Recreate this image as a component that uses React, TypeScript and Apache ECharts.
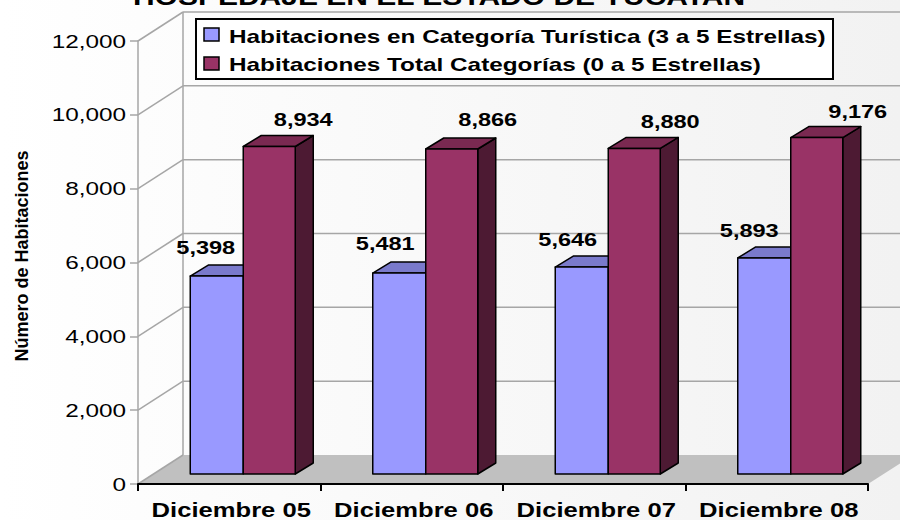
import React, { useEffect, useRef } from "react";
import * as echarts from "echarts";

const categories = ["Diciembre 05", "Diciembre 06", "Diciembre 07", "Diciembre 08"];
const seriesNames = [
  "Habitaciones en Categoría Turística (3 a 5 Estrellas)",
  "Habitaciones Total Categorías (0 a 5 Estrellas)",
];
const turistica = [5398, 5481, 5646, 5893];
const total = [8934, 8866, 8880, 9176];
const yTicks = [0, 2000, 4000, 6000, 8000, 10000, 12000];
const titleText = "HOSPEDAJE EN EL ESTADO DE YUCATAN";
const yAxisName = "Número de Habitaciones";

const labelNudgeA = [[-11, -2], [-14, -3], [-14, -1], [-15, -1]];
const labelNudgeB = [[34, -1], [36, -3], [36, -1], [41, 0]];

const FONT = "'Liberation Sans', Arial, sans-serif";
const DEPTH_X = 45;
const DEPTH_Y = -29;
const BAR_DY = -10;
const BAR_SCALE = 0.993;
const STRETCH = 1.28;

const fmt = (v: number) => v.toLocaleString("en-US");

function barSeries(name: string, values: number[], idx: number, front: string, top: string, side: string, nudge: number[][]) {
  return {
    type: "custom",
    name,
    z: 5,
    clip: false,
    data: values.map((v, i) => [i, v]),
    encode: { x: 0, y: 1 },
    renderItem: (params: any, api: any) => {
      const i = api.value(0);
      const v = api.value(1);
      const base = api.coord([i, 0]);
      const topP = api.coord([i, v]);
      const x0 = base[0] + (idx === 0 ? -39 : 14);
      const x1 = x0 + (idx === 0 ? 53 : 52);
      const yb = base[1] + BAR_DY;
      const yt = yb - (base[1] - topP[1]) * BAR_SCALE;
      const dx = 18;
      const dy = -11;
      const line = { stroke: "#000", lineWidth: 1.5, lineJoin: "round" };
      const children: any[] = [];
      if (idx === 1) {
        children.push({
          type: "polygon",
          shape: { points: [[x1, yb], [x1 + dx, yb + dy], [x1 + dx, yt + dy], [x1, yt]] },
          style: { fill: side, ...line },
        });
      }
      children.push({
        type: "polygon",
        shape: { points: [[x0, yt], [x0 + dx, yt + dy], [x1 + dx, yt + dy], [x1, yt]] },
        style: { fill: top, ...line },
      });
      children.push({
        type: "rect",
        shape: { x: x0, y: yt, width: x1 - x0, height: yb - yt },
        style: { fill: front, ...line },
      });
      children.push({
        type: "text",
        x: (x0 + x1) / 2 + nudge[i][0],
        y: yt - 26 + nudge[i][1],
        scaleX: 1.24,
        style: {
          text: fmt(v),
          fontFamily: FONT,
          fontWeight: "bold",
          fontSize: 19,
          fill: "#000",
          align: "center",
          verticalAlign: "middle",
        },
      });
      return { type: "group", children };
    },
  };
}

export default function App() {
  const ref = useRef<HTMLDivElement>(null);
  useEffect(() => {
    const chart = echarts.init(ref.current!, undefined, { renderer: "svg" });
    const wallSeries = {
      type: "custom",
      silent: true,
      z: 1,
      clip: false,
      data: yTicks.map((t) => [0, t]),
      encode: { x: 0, y: 1 },
      renderItem: (params: any, api: any) => {
        const v = api.value(1);
        const band = api.size([1, 0])[0];
        const c0 = api.coord([0, v]);
        const left = [c0[0] - band / 2, c0[1]];
        const wallStyle = { stroke: "#a6a6a6", lineWidth: 1.5 };
        const bx = left[0] + DEPTH_X;
        const by = left[1] + DEPTH_Y;
        const children: any[] = [];
        if (v === 0) {
          const rightX = api.coord([3, 0])[0] + band / 2;
          children.push({
            type: "polygon",
            shape: {
              points: [
                [left[0], left[1]],
                [bx, by],
                [rightX + DEPTH_X, by],
                [rightX, left[1]],
              ],
            },
            style: { fill: "#c0c0c0", stroke: "none" },
          });
          const topY = api.coord([0, 12000])[1];
          children.push({
            type: "line",
            shape: { x1: bx, y1: by, x2: bx, y2: topY + DEPTH_Y },
            style: wallStyle,
          });
        } else {
          children.push({
            type: "line",
            shape: { x1: bx, y1: by, x2: 900, y2: by },
            style: wallStyle,
          });
        }
        children.push({
          type: "line",
          shape: { x1: left[0], y1: left[1], x2: bx, y2: by },
          style: wallStyle,
        });
        return { type: "group", children };
      },
    };
    const yLabelSeries = {
      type: "custom",
      silent: true,
      z: 6,
      clip: false,
      data: yTicks.map((t) => [0, t]),
      encode: { x: 0, y: 1 },
      renderItem: (params: any, api: any) => {
        const v = api.value(1);
        const p = api.coord([0, v]);
        return {
          type: "text",
          x: 126,
          y: p[1],
          scaleX: STRETCH,
          style: {
            text: fmt(v),
            fontFamily: FONT,
            fontSize: 19,
            fill: "#000",
            align: "right",
            verticalAlign: "middle",
          },
        };
      },
    };
    const xLabelSeries = {
      type: "custom",
      silent: true,
      z: 6,
      clip: false,
      data: categories.map((c, i) => [i, 0]),
      encode: { x: 0, y: 1 },
      renderItem: (params: any, api: any) => {
        const i = api.value(0);
        const p = api.coord([i, 0]);
        return {
          type: "text",
          x: p[0] + 2,
          y: 510,
          scaleX: STRETCH,
          style: {
            text: categories[i],
            fontFamily: FONT,
            fontWeight: "bold",
            fontSize: 20,
            fill: "#000",
            align: "center",
            verticalAlign: "middle",
          },
        };
      },
    };
    chart.setOption({
      animation: false,
      backgroundColor: {
        type: "linear", x: 0, y: 0, x2: 1, y2: 0,
        colorStops: [{ offset: 0, color: "#ffffff" }, { offset: 1, color: "#f2f2f2" }],
      },
      grid: { left: 138, right: 32, top: 41, bottom: 36 },
      xAxis: {
        type: "category",
        data: categories,
        axisLine: { lineStyle: { color: "#000", width: 2 } },
        axisTick: { show: true, interval: 0, length: 7, lineStyle: { color: "#000", width: 2 } },
        axisLabel: { show: false, interval: 0 },
        z: 7,
      },
      yAxis: {
        type: "value",
        min: 0,
        max: 12000,
        interval: 2000,
        axisLine: { show: true, lineStyle: { color: "#a6a6a6", width: 1.5 } },
        axisTick: { show: true, length: 8, lineStyle: { color: "#a6a6a6", width: 1.5 } },
        axisLabel: { show: false },
        splitLine: { show: false },
      },
      series: [
        wallSeries,
        barSeries(seriesNames[0], turistica, 0, "#9999ff", "#7a7acc", "#4d4d80", labelNudgeA),
        barSeries(seriesNames[1], total, 1, "#993366", "#7a2951", "#4d1a33", labelNudgeB),
        yLabelSeries,
        xLabelSeries,
      ],
      graphic: [
        {
          type: "text",
          x: 439,
          y: -3,
          scaleX: 1.25,
          style: {
            text: titleText,
            fontFamily: FONT,
            fontWeight: "bold",
            fontSize: 24,
            fill: "#000",
            align: "center",
            verticalAlign: "middle",
          },
          z: 10,
        },
        {
          type: "text",
          x: 22,
          y: 256,
          rotation: Math.PI / 2,
          style: {
            text: yAxisName,
            fontFamily: FONT,
            fontWeight: "bold",
            fontSize: 18,
            fill: "#000",
            align: "center",
            verticalAlign: "middle",
          },
          z: 10,
        },
        {
          type: "rect",
          shape: { x: 196, y: 19, width: 637, height: 60 },
          style: { fill: "#fff", stroke: "#000", lineWidth: 2 },
          z: 10,
        },
        {
          type: "rect",
          shape: { x: 204, y: 28, width: 15, height: 13 },
          style: { fill: "#9999ff", stroke: "#000", lineWidth: 1.5 },
          z: 10,
        },
        {
          type: "rect",
          shape: { x: 204, y: 57, width: 15, height: 13 },
          style: { fill: "#993366", stroke: "#000", lineWidth: 1.5 },
          z: 10,
        },
        {
          type: "text",
          x: 229,
          y: 36,
          scaleX: 1.28,
          style: { text: seriesNames[0], fontFamily: FONT, fontWeight: "bold", fontSize: 19, fill: "#000", align: "left", verticalAlign: "middle" },
          z: 10,
        },
        {
          type: "text",
          x: 229,
          y: 64,
          scaleX: 1.28,
          style: { text: seriesNames[1], fontFamily: FONT, fontWeight: "bold", fontSize: 19, fill: "#000", align: "left", verticalAlign: "middle" },
          z: 10,
        },
      ],
    });
    return () => chart.dispose();
  }, []);
  return <div ref={ref} style={{ position: "absolute", left: 0, top: 0, width: 900, height: 520 }} />;
}
